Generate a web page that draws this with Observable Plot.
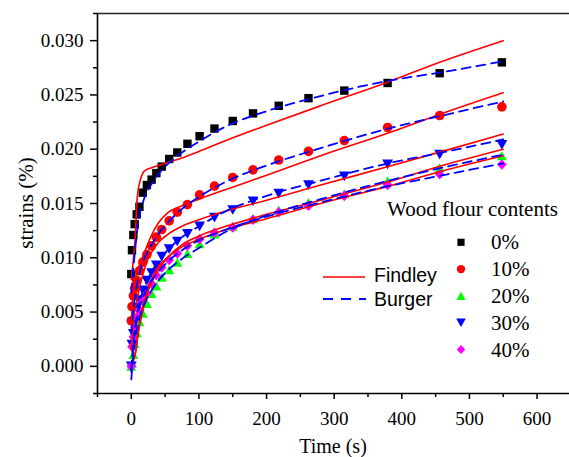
<!DOCTYPE html>
<html><head><meta charset="utf-8">
<script src="https://cdn.jsdelivr.net/npm/d3@7"></script>
<script src="https://cdn.jsdelivr.net/npm/@observablehq/plot@0.6"></script>
<style>
body{margin:0;background:#fff}
#chart{position:relative;width:569px;height:457px;overflow:hidden;background:#fff}
</style>
</head><body><div id="chart"></div>
<script>
// ---------- data ----------
const contents = ["0%", "10%", "20%", "30%", "40%"];
const colors = ["#000000", "#ff0000", "#00ff00", "#0000ff", "#ff00ff"];

// measured creep points
const times = [0, 1, 3, 5, 8, 12, 17, 23, 30, 37, 45, 56, 68, 83, 101, 123, 150, 180, 218, 262, 315, 379, 456, 548];
const strain0  = [0.0085, 0.0107, 0.0121, 0.0131, 0.0140, 0.0147, 0.0160, 0.0167, 0.0172, 0.0178, 0.0184, 0.0191, 0.0197, 0.0205, 0.0212, 0.0219, 0.0226, 0.0233, 0.0240, 0.0247, 0.0254, 0.0261, 0.0270, 0.0280];
const strain10 = [0.0042, 0.0055, 0.0065, 0.0072, 0.0079, 0.0088, 0.0096, 0.0103, 0.0111, 0.0119, 0.0126, 0.0134, 0.0142, 0.0149, 0.0158, 0.0166, 0.0174, 0.0181, 0.0190, 0.0198, 0.0208, 0.0220, 0.0231, 0.0239];
const strain20 = [0.0000, 0.0003, 0.0011, 0.0021, 0.0031, 0.0041, 0.0049, 0.0058, 0.0067, 0.0074, 0.0082, 0.0089, 0.0096, 0.0104, 0.0113, 0.0122, 0.0129, 0.0136, 0.0144, 0.0151, 0.0159, 0.0171, 0.0183, 0.0194];
const strain30 = [0.0000, 0.0020, 0.0030, 0.0040, 0.0054, 0.0061, 0.0070, 0.0079, 0.0086, 0.0093, 0.0101, 0.0108, 0.0115, 0.0122, 0.0129, 0.0137, 0.0144, 0.0152, 0.0159, 0.0167, 0.0175, 0.0186, 0.0195, 0.0204];
const strain40 = [0.0000, 0.0018, 0.0027, 0.0036, 0.0045, 0.0052, 0.0060, 0.0067, 0.0076, 0.0084, 0.0091, 0.0098, 0.0104, 0.0111, 0.0117, 0.0123, 0.0128, 0.0135, 0.0142, 0.0148, 0.0157, 0.0167, 0.0177, 0.0186];

// fitted curves
const fitTimes = [0, 2, 4, 6, 8, 10, 13, 17, 22, 30, 40, 55, 75, 100, 140, 200, 280, 380, 460, 550];
const findley0  = [0.0080, 0.0092, 0.0105, 0.0121, 0.0149, 0.0162, 0.0171, 0.0178, 0.0181, 0.0183, 0.0185, 0.0188, 0.0192, 0.0198, 0.0208, 0.0222, 0.0240, 0.0262, 0.0281, 0.0300];
const findley10 = [0.0040, 0.0062, 0.0072, 0.0079, 0.0085, 0.0090, 0.0095, 0.0101, 0.0109, 0.0121, 0.0132, 0.0142, 0.0148, 0.0154, 0.0163, 0.0176, 0.0194, 0.0215, 0.0233, 0.0252];
const findley20 = [0.0000, 0.0003, 0.0007, 0.0012, 0.0022, 0.0032, 0.0043, 0.0055, 0.0067, 0.0080, 0.0092, 0.0101, 0.0110, 0.0117, 0.0126, 0.0136, 0.0150, 0.0166, 0.0180, 0.0194];
const findley30 = [0.0015, 0.0035, 0.0047, 0.0054, 0.0060, 0.0066, 0.0075, 0.0084, 0.0095, 0.0105, 0.0114, 0.0122, 0.0129, 0.0135, 0.0143, 0.0153, 0.0167, 0.0184, 0.0198, 0.0214];
const findley40 = [0.0000, 0.0004, 0.0009, 0.0012, 0.0020, 0.0029, 0.0040, 0.0051, 0.0064, 0.0077, 0.0089, 0.0101, 0.0112, 0.0120, 0.0129, 0.0140, 0.0153, 0.0170, 0.0185, 0.0200];
const burger0  = [0.0068, 0.0083, 0.0097, 0.0110, 0.0121, 0.0131, 0.0142, 0.0151, 0.0159, 0.0168, 0.0177, 0.0187, 0.0197, 0.0207, 0.0221, 0.0235, 0.0249, 0.0263, 0.0271, 0.0281];
const burger10 = [0.0030, 0.0045, 0.0057, 0.0066, 0.0074, 0.0080, 0.0088, 0.0096, 0.0103, 0.0112, 0.0122, 0.0133, 0.0145, 0.0156, 0.0170, 0.0185, 0.0201, 0.0219, 0.0231, 0.0244];
const burger20 = [-0.0012, 0.0004, 0.0016, 0.0026, 0.0034, 0.0040, 0.0047, 0.0054, 0.0061, 0.0070, 0.0079, 0.0089, 0.0099, 0.0109, 0.0124, 0.0139, 0.0154, 0.0171, 0.0183, 0.0195];
const burger30 = [-0.0005, 0.0012, 0.0026, 0.0037, 0.0046, 0.0053, 0.0061, 0.0069, 0.0077, 0.0087, 0.0097, 0.0108, 0.0119, 0.0129, 0.0143, 0.0157, 0.0171, 0.0187, 0.0197, 0.0209];
const burger40 = [-0.0003, 0.0014, 0.0027, 0.0036, 0.0043, 0.0049, 0.0056, 0.0063, 0.0070, 0.0079, 0.0087, 0.0097, 0.0107, 0.0116, 0.0126, 0.0138, 0.0151, 0.0166, 0.0176, 0.0187];

// axes ticks
const xTicks = [0, 100, 200, 300, 400, 500, 600];
const xMinor = [-50, 50, 150, 250, 350, 450, 550];
const yTicks = [0, 0.005, 0.010, 0.015, 0.020, 0.025, 0.030];
const yMinor = [-0.0025, 0.0025, 0.0075, 0.0125, 0.0175, 0.0225, 0.0275, 0.0325];
const xDomain = [-50, 648];
const yDomain = [-0.0025, 0.0325];

// ---------- symbols ----------
function sym(fn) { return {draw(ctx, size) { const r = Math.sqrt(size / Math.PI); fn(ctx, r); }}; }
const symSquare = sym((c, r) => { c.moveTo(-r, -r); c.lineTo(r, -r); c.lineTo(r, r); c.lineTo(-r, r); c.closePath(); });
const symCircle = sym((c, r) => { c.moveTo(r, 0); c.arc(0, 0, r, 0, 2 * Math.PI); });
const symUp = sym((c, r) => { c.moveTo(0, -0.9 * r); c.lineTo(r, 0.9 * r); c.lineTo(-r, 0.9 * r); c.closePath(); });
const symDown = sym((c, r) => { c.moveTo(0, 0.9 * r); c.lineTo(r, -0.9 * r); c.lineTo(-r, -0.9 * r); c.closePath(); });
const symDiamond = sym((c, r) => { c.moveTo(0, -1.1 * r); c.lineTo(r, 0); c.lineTo(0, 1.1 * r); c.lineTo(-r, 0); c.closePath(); });
const symbols = [symSquare, symCircle, symUp, symDown, symDiamond];
const symR = [4.2, 4.8, 5.0, 5.4, 4.8];

const strains = [strain0, strain10, strain20, strain30, strain40];
const findleys = [findley0, findley10, findley20, findley30, findley40];
const burgers = [burger0, burger10, burger20, burger30, burger40];

const pointSets = strains.map((s) => times.map((t, j) => ({t, v: s[j]})));
const findleyRows = findleys.flatMap((f, i) => fitTimes.map((t, j) => ({t, v: f[j], c: contents[i]})));
const burgerRows = burgers.flatMap((b, i) => fitTimes.map((t, j) => ({t, v: b[j], c: contents[i]})));

const serif = "'Liberation Serif','Times New Roman',serif";
const sans = "'Liberation Sans',Arial,sans-serif";

const W = 569, H = 457;
const plot = Plot.plot({
  width: W, height: H,
  marginLeft: 97, marginRight: 0, marginTop: 13, marginBottom: 64,
  style: {fontFamily: serif, fontSize: "19px", color: "#000", background: "#fff", overflow: "hidden"},
  x: {domain: xDomain},
  y: {domain: yDomain},
  marks: [
    ...pointSets.map((pts, i) => Plot.dot(pts, {x: "t", y: "v", r: symR[i], symbol: symbols[i], fill: colors[i], stroke: "none"})),
    Plot.line(findleyRows, {x: "t", y: "v", z: "c", stroke: "#ff0000", strokeWidth: 1.6, curve: "monotone-x"}),
    Plot.line(burgerRows, {x: "t", y: "v", z: "c", stroke: "#0000ff", strokeWidth: 1.8, strokeDasharray: "9,6", curve: "monotone-x"}),
    Plot.ruleX([xDomain[0]], {stroke: "#000", strokeWidth: 1.6}),
    Plot.ruleY([yDomain[0]], {stroke: "#000", strokeWidth: 1.6}),
    Plot.ruleY([yDomain[1]], {stroke: "#222", strokeWidth: 1.6}),
    Plot.axisY(yTicks, {tickSize: 7, tickPadding: 7, tickFormat: d3.format(".3f"), label: null, strokeWidth: 1.5, fontSize: 19}),
    Plot.axisY(yMinor, {tickSize: 4, tickFormat: () => "", label: null, strokeWidth: 1.5}),
    Plot.axisX(xTicks, {tickSize: 6, tickPadding: 12, tickFormat: d3.format("d"), label: null, strokeWidth: 1.5, fontSize: 19}),
    Plot.axisX(xMinor, {tickSize: 4, tickFormat: () => "", label: null, strokeWidth: 1.5})
  ]
});
document.getElementById("chart").appendChild(plot);

// ---------- titles and legend ----------
const svg = d3.select(plot);
function addText(parent, x, y, str, family, size, anchor) {
  return parent.append("text").attr("x", x).attr("y", y)
    .style("font-family", family).style("font-size", size + "px")
    .style("text-anchor", anchor || "start").style("fill", "#000").text(str);
}
addText(svg, 333, 453, "Time (s)", serif, 20, "middle");
svg.append("text").attr("transform", "translate(33,203) rotate(-90)")
  .style("text-anchor", "middle").style("font-family", serif).style("font-size", "21px")
  .style("fill", "#000").text("strains (%)");

const lg = svg.append("g");
addText(lg, 387, 216, "Wood flour contents", serif, 21);
const legR = [3.6, 4.2, 4.6, 4.8, 4.2];
contents.forEach((c, i) => {
  const yy = 242.3 + i * 26.8;
  lg.append("path").attr("transform", `translate(461,${yy})`)
    .attr("d", d3.symbol(symbols[i], Math.PI * legR[i] * legR[i])()).style("fill", colors[i]);
  addText(lg, 491, yy + 7, c, serif, 21);
});
lg.append("line").attr("x1", 323).attr("x2", 365).attr("y1", 277).attr("y2", 277)
  .style("stroke", "#ff0000").style("stroke-width", 1.6);
addText(lg, 374, 282, "Findley", sans, 19.5);
lg.append("line").attr("x1", 323).attr("x2", 366).attr("y1", 299).attr("y2", 299)
  .style("stroke", "#0000ff").style("stroke-width", 1.8).style("stroke-dasharray", "10,8");
addText(lg, 374, 305.5, "Burger", sans, 19.5);
</script>
</body></html>
